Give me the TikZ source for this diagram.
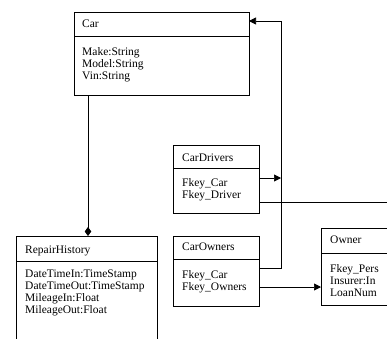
\documentclass[tikz,border=0pt]{standalone}
\usepackage{fontspec}
\setmainfont{Liberation Serif}
\usetikzlibrary{arrows.meta}
\begin{document}
\begin{tikzpicture}[x=1pt,y=-1pt,
  classbox/.style={draw=black, line width=0.7pt, anchor=north west, inner sep=0pt, outer sep=0pt},
  txt/.style={anchor=base west, inner sep=0pt, font=\fontsize{11.5}{12}\selectfont},
  link/.style={draw=black, line width=0.7pt},
  tri/.style={link, -{Triangle[length=7pt,width=7pt]}},
  agg/.style={link, -{Diamond[length=9pt,width=6.5pt]}}]
\useasboundingbox (0,0) rectangle (387,338);
\clip (0,0) rectangle (387,338);

% Car
\node[classbox, minimum width=175pt, minimum height=83pt] (car) at (74,12) {};
\draw[link] ([yshift=-24pt]car.north west) -- ([yshift=-24pt]car.north east);
\node[txt] (car-t) at (82,27) {Car};
\node[txt] (car-1) at (82,55) {Make:String};
\node[txt] (car-2) at (82,67) {Model:String};
\node[txt] (car-3) at (82,79) {Vin:String};

% RepairHistory
\node[classbox, minimum width=141pt, minimum height=130pt] (rh) at (16,236) {};
\draw[link] ([yshift=-25pt]rh.north west) -- ([yshift=-25pt]rh.north east);
\node[txt] (rh-t) at (25,253) {RepairHistory};
\node[txt] (rh-1) at (25,277) {DateTimeIn:TimeStamp};
\node[txt] (rh-2) at (25,289) {DateTimeOut:TimeStamp};
\node[txt] (rh-3) at (25,301) {MileageIn:Float};
\node[txt] (rh-4) at (25,313) {MileageOut:Float};

% CarDrivers
\node[classbox, minimum width=86pt, minimum height=68pt] (cd) at (173,145) {};
\draw[link] ([yshift=-23pt]cd.north west) -- ([yshift=-23pt]cd.north east);
\node[txt] (cd-t) at (182,161) {CarDrivers};
\node[txt] (cd-1) at (182,186) {Fkey\_Car};
\node[txt] (cd-2) at (182,198) {Fkey\_Driver};

% CarOwners
\node[classbox, minimum width=86pt, minimum height=70pt] (co) at (173,236) {};
\draw[link] ([yshift=-23pt]co.north west) -- ([yshift=-23pt]co.north east);
\node[txt] (co-t) at (182,250) {CarOwners};
\node[txt] (co-1) at (182,278) {Fkey\_Car};
\node[txt] (co-2) at (182,290) {Fkey\_Owners};

% Owner
\node[classbox, minimum width=100pt, minimum height=77pt] (own) at (321,228) {};
\draw[link] ([yshift=-25pt]own.north west) -- ([yshift=-25pt]own.north east);
\node[txt] (own-t) at (330,243) {Owner};
\node[txt] (own-1) at (330,272) {Fkey\_Pers};
\node[txt] (own-2) at (330,284) {Insurer:In};
\node[txt] (own-3) at (330,296) {LoanNum};

% Connectors
\coordinate (bus) at (281,21);
\coordinate (coA) at ([yshift=-32pt]co.north east);
\coordinate (coB) at ([yshift=-51pt]co.north east);
\coordinate (cdA) at ([yshift=-33pt]cd.north east);
\coordinate (cdB) at ([yshift=-57pt]cd.north east);
\coordinate (drv) at (387,202);
\coordinate (carB) at ([xshift=14pt]car.south west);

\draw[tri] (coA) -| (bus) -- (bus -| car.east);
\draw[tri] (cdA) -- (cdA -| bus);
\draw[link] (cdB) -- (drv);
\draw[tri] (coB) -- (coB -| own.west);
\draw[agg] (carB) -- (carB |- rh.north);
\end{tikzpicture}
\end{document}
